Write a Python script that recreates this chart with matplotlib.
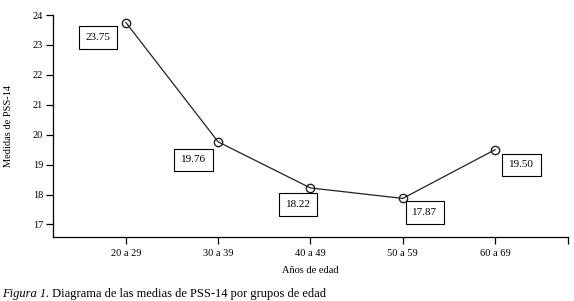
import numpy as np
import matplotlib.pyplot as plt

grupos = ['20 a 29', '30 a 39', '40 a 49', '50 a 59', '60 a 69']
medias = [23.75, 19.76, 18.22, 17.87, 19.50]
etiquetas = ['23.75', '19.76', '18.22', '17.87', '19.50']
# label box offsets (points) relative to each point
offsets = [(-20, -11), (-18, -13), (-9, -12), (16, -10), (19, -11)]
yticks = [17, 18, 19, 20, 21, 22, 23, 24]

plt.rcParams['font.family'] = ['Liberation Serif', 'DejaVu Serif']

fig = plt.figure(figsize=(5.74, 3.01), dpi=100)
ax = fig.add_axes([0.0923, 0.2126, 0.8972, 0.7374])

x = np.arange(len(grupos))
ax.plot(x, medias, color='#222222', lw=0.9, marker='o', ms=6,
        mfc='none', mec='#222222', mew=1.0, zorder=3)

for xi, yi, lab, off in zip(x, medias, etiquetas, offsets):
    ax.annotate(lab, (xi, yi), xytext=off, textcoords='offset points',
                ha='center', va='center', fontsize=8,
                bbox=dict(boxstyle='square,pad=0.62', fc='white', ec='black', lw=0.8))

ax.set_xlim(-0.79, 4.79)
ax.set_ylim(16.58, 24)
ax.set_xticks(x)
ax.set_xticklabels(grupos)
ax.set_xticks([4.79], minor=True)
ax.set_yticks(yticks)
ax.tick_params(axis='both', labelsize=7.5, length=5, width=0.9, color='black')
ax.tick_params(axis='x', which='minor', length=5, width=0.9)
ax.tick_params(axis='y', pad=2)

for s in ['top', 'right']:
    ax.spines[s].set_visible(False)
for s in ['left', 'bottom']:
    ax.spines[s].set_linewidth(0.9)

ax.set_ylabel('Medidas de PSS-14', fontsize=7.5, labelpad=14)
ax.set_xlabel('Años de edad', fontsize=7.5, labelpad=6)

t1 = fig.text(0.003, 0.012, 'Figura 1.', fontsize=9, style='italic')
fig.canvas.draw()
ax.annotate(' Diagrama de las medias de PSS-14 por grupos de edad', xy=(1, 0),
            xycoords=t1, va='bottom', fontsize=9, annotation_clip=False)

fig.savefig('out.png', dpi=100)
